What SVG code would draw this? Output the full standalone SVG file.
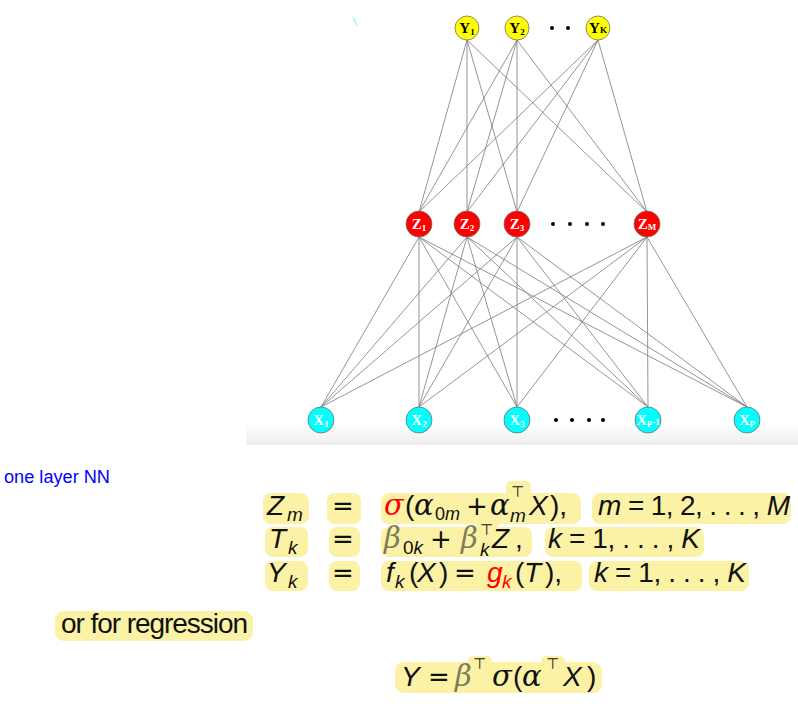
<svg xmlns="http://www.w3.org/2000/svg" width="798" height="708" viewBox="0 0 798 708">
  <defs>
    <linearGradient id="floor" x1="0" y1="0" x2="0" y2="1">
      <stop offset="0" stop-color="#ffffff"/>
      <stop offset="1" stop-color="#eeeeee"/>
    </linearGradient>
    <style>
      .edge { stroke: #7a7a7a; stroke-width: 0.8; fill: none; }
      .ynode { fill: #ffff00; stroke: #707070; stroke-width: 0.8; }
      .znode { fill: #ff0000; stroke: #707070; stroke-width: 0.8; }
      .xnode { fill: #00ffff; stroke: #707070; stroke-width: 0.8; }
      .nl { font-family: "Liberation Serif", "Times New Roman", serif; font-weight: bold; font-size: 15px; text-anchor: middle; }
      .nl .s { font-size: 9px; }
      .ydark { fill: #000000; }
      .wlight { fill: #ffffff; }
      .dot { fill: #000000; }
      .hl { fill: #fbf2a6; }
      .m { font-family: "Liberation Sans", Arial, sans-serif; font-size: 28px; fill: #111111; }
      .it { font-style: italic; }
      .gr { font-family: "DejaVu Serif", "Liberation Serif", serif; font-style: italic; font-size: 29px; }
      .op { font-family: "DejaVu Sans", sans-serif; font-size: 26px; }
      .sb { font-size: 19px; }
      .sb2 { font-size: 18px; }
      .tp { font-family: "DejaVu Sans", sans-serif; font-size: 15px; fill: #111111; }
      .red { fill: #ff0000; }
      .olive { fill: #7c7c58; }
      .note { font-family: "Liberation Sans", Arial, sans-serif; font-size: 17.5px; fill: #0000ff; }
    </style>
  </defs>

  <rect width="798" height="708" fill="#ffffff"/>
  <!-- soft floor under the input layer -->
  <rect x="246" y="422" width="552" height="23" fill="url(#floor)"/>
  <line x1="353" y1="17" x2="357" y2="26" stroke="#a8f4f4" stroke-width="1.5"/>

  <!-- connections -->
  <g id="connectors">
    <!-- output layer to hidden layer -->
    <line class="edge" x1="467" y1="40" x2="419" y2="212"/>
    <line class="edge" x1="467" y1="40" x2="467" y2="212"/>
    <line class="edge" x1="467" y1="40" x2="517" y2="212"/>
    <line class="edge" x1="467" y1="40" x2="647" y2="212"/>
    <line class="edge" x1="517" y1="40" x2="419" y2="212"/>
    <line class="edge" x1="517" y1="40" x2="467" y2="212"/>
    <line class="edge" x1="517" y1="40" x2="517" y2="212"/>
    <line class="edge" x1="517" y1="40" x2="647" y2="212"/>
    <line class="edge" x1="598" y1="40" x2="419" y2="212"/>
    <line class="edge" x1="598" y1="40" x2="467" y2="212"/>
    <line class="edge" x1="598" y1="40" x2="517" y2="212"/>
    <line class="edge" x1="598" y1="40" x2="647" y2="212"/>
    <!-- hidden layer to input layer -->
    <line class="edge" x1="419" y1="237" x2="321" y2="407"/>
    <line class="edge" x1="419" y1="237" x2="419" y2="407"/>
    <line class="edge" x1="419" y1="237" x2="517" y2="407"/>
    <line class="edge" x1="419" y1="237" x2="648" y2="407"/>
    <line class="edge" x1="419" y1="237" x2="747" y2="407"/>
    <line class="edge" x1="467" y1="237" x2="321" y2="407"/>
    <line class="edge" x1="467" y1="237" x2="419" y2="407"/>
    <line class="edge" x1="467" y1="237" x2="517" y2="407"/>
    <line class="edge" x1="467" y1="237" x2="648" y2="407"/>
    <line class="edge" x1="467" y1="237" x2="747" y2="407"/>
    <line class="edge" x1="517" y1="237" x2="321" y2="407"/>
    <line class="edge" x1="517" y1="237" x2="419" y2="407"/>
    <line class="edge" x1="517" y1="237" x2="517" y2="407"/>
    <line class="edge" x1="517" y1="237" x2="648" y2="407"/>
    <line class="edge" x1="517" y1="237" x2="747" y2="407"/>
    <line class="edge" x1="647" y1="237" x2="321" y2="407"/>
    <line class="edge" x1="647" y1="237" x2="419" y2="407"/>
    <line class="edge" x1="647" y1="237" x2="517" y2="407"/>
    <line class="edge" x1="647" y1="237" x2="648" y2="407"/>
    <line class="edge" x1="647" y1="237" x2="747" y2="407"/>
  </g>

  <!-- output layer -->
  <g id="y1"><circle class="ynode" cx="467" cy="28" r="12"/><text class="nl ydark" x="467" y="33">Y<tspan class="s" dy="2">1</tspan></text></g>
  <g id="y2"><circle class="ynode" cx="517" cy="28" r="12"/><text class="nl ydark" x="517" y="33">Y<tspan class="s" dy="2">2</tspan></text></g>
  <g id="yk"><circle class="ynode" cx="598" cy="28" r="12"/><text class="nl ydark" x="598" y="33">Y<tspan class="s" dy="0">K</tspan></text></g>
  <g id="y-ellipsis"><circle class="dot" cx="552" cy="28" r="2"/><circle class="dot" cx="568" cy="28" r="2"/></g>

  <!-- hidden layer -->
  <g id="z1"><circle class="znode" cx="419" cy="224" r="13"/><text class="nl wlight" x="419" y="229">Z<tspan class="s" dy="2">1</tspan></text></g>
  <g id="z2"><circle class="znode" cx="467" cy="224" r="13"/><text class="nl wlight" x="467" y="229">Z<tspan class="s" dy="2">2</tspan></text></g>
  <g id="z3"><circle class="znode" cx="517" cy="224" r="13"/><text class="nl wlight" x="517" y="229">Z<tspan class="s" dy="2">3</tspan></text></g>
  <g id="zm"><circle class="znode" cx="647" cy="224" r="13"/><text class="nl wlight" x="647" y="229">Z<tspan class="s" dy="1">M</tspan></text></g>
  <g id="z-ellipsis"><circle class="dot" cx="553" cy="224" r="2"/><circle class="dot" cx="570" cy="224" r="2"/><circle class="dot" cx="587" cy="224" r="2"/><circle class="dot" cx="603" cy="224" r="2"/></g>

  <!-- input layer -->
  <g id="x1"><circle class="xnode" cx="321" cy="420" r="13"/><text class="nl wlight" x="321" y="425">X<tspan class="s" dy="2">1</tspan></text></g>
  <g id="x2"><circle class="xnode" cx="419" cy="420" r="13"/><text class="nl wlight" x="419" y="425">X<tspan class="s" dy="2">2</tspan></text></g>
  <g id="x3"><circle class="xnode" cx="517" cy="420" r="13"/><text class="nl wlight" x="517" y="425">X<tspan class="s" dy="2">3</tspan></text></g>
  <g id="xp1"><circle class="xnode" cx="648" cy="420" r="13"/><text class="nl wlight" x="648" y="425">X<tspan class="s" dy="0">p-1</tspan></text></g>
  <g id="xp"><circle class="xnode" cx="747" cy="420" r="13"/><text class="nl wlight" x="747" y="425">X<tspan class="s" dy="0">p</tspan></text></g>
  <g id="x-ellipsis"><circle class="dot" cx="556" cy="420" r="2"/><circle class="dot" cx="572" cy="420" r="2"/><circle class="dot" cx="589" cy="420" r="2"/><circle class="dot" cx="603" cy="420" r="2"/></g>

  <text class="note" x="4" y="483" textLength="106" lengthAdjust="spacingAndGlyphs">one layer NN</text>

  <!-- highlighted model equations -->
  <g id="eq-highlights">
    <rect class="hl" x="263" y="493" width="46" height="31" rx="8"/>
    <rect class="hl" x="327" y="493" width="34" height="31" rx="8"/>
    <rect class="hl" x="381" y="493" width="200" height="31" rx="8"/>
    <rect class="hl" x="506" y="481" width="25" height="20" rx="5"/>
    <rect class="hl" x="592" y="493" width="199" height="31" rx="8"/>

    <rect class="hl" x="265" y="527" width="43" height="30" rx="8"/>
    <rect class="hl" x="329" y="527" width="31" height="30" rx="8"/>
    <rect class="hl" x="381" y="527" width="151" height="30" rx="8"/>
    <rect class="hl" x="476" y="519" width="22" height="16" rx="5"/>
    <rect class="hl" x="545" y="527" width="159" height="30" rx="8"/>

    <rect class="hl" x="265" y="561" width="43" height="30" rx="8"/>
    <rect class="hl" x="329" y="561" width="31" height="30" rx="8"/>
    <rect class="hl" x="381" y="561" width="201" height="30" rx="8"/>
    <rect class="hl" x="589" y="561" width="160" height="30" rx="8"/>

    <rect class="hl" x="55" y="611" width="198" height="30" rx="9"/>

    <rect class="hl" x="395" y="662" width="207" height="31" rx="9"/>
    <rect class="hl" x="468" y="656" width="24" height="14" rx="5"/>
    <rect class="hl" x="541" y="656" width="24" height="14" rx="5"/>
  </g>

  <g id="eq-row1" class="m">
    <text class="it" x="267" y="515">Z</text>
    <text class="it sb" x="287" y="521">m</text>
    <text class="op" x="332" y="515">=</text>
    <text class="gr red" x="384" y="515">σ</text>
    <text x="405" y="515">(</text>
    <text class="gr" x="414" y="515">α</text>
    <text class="sb2" x="435" y="520">0<tspan class="it">m</tspan></text>
    <text class="op" x="466" y="515">+</text>
    <text class="gr" x="490" y="515">α</text>
    <text class="tp" x="511" y="497">⊤</text>
    <text class="it sb" x="510" y="522">m</text>
    <text class="it" x="529" y="515">X</text>
    <text x="550" y="515">),</text>
    <text x="598" y="515" textLength="192" lengthAdjust="spacing"><tspan class="it">m</tspan> = 1, 2, . . . , <tspan class="it">M</tspan></text>
  </g>

  <g id="eq-row2" class="m">
    <text class="it" x="269" y="548">T</text>
    <text class="it sb" x="288" y="554">k</text>
    <text class="op" x="332" y="548">=</text>
    <text class="gr olive" x="384" y="548" font-size="28">β</text>
    <text class="sb" x="403" y="554">0<tspan class="it">k</tspan></text>
    <text class="op" x="430" y="548">+</text>
    <text class="gr olive" x="461" y="548" font-size="28">β</text>
    <text class="tp" x="480" y="535">⊤</text>
    <text class="it sb" x="480" y="556">k</text>
    <text class="it" x="492" y="548">Z</text>
    <text x="515" y="548">,</text>
    <text x="548" y="548" textLength="152" lengthAdjust="spacing"><tspan class="it">k</tspan> = 1, . . . , <tspan class="it">K</tspan></text>
  </g>

  <g id="eq-row3" class="m">
    <text class="it" x="267" y="582">Y</text>
    <text class="it sb" x="288" y="588">k</text>
    <text class="op" x="332" y="582">=</text>
    <text class="it" x="386" y="582">f</text>
    <text class="it sb" x="395" y="588">k</text>
    <text x="409" y="582">(</text>
    <text class="it" x="417" y="582">X</text>
    <text x="439" y="582">)</text>
    <text class="op" x="454" y="582">=</text>
    <text class="it red" x="487" y="582">g</text>
    <text class="it sb red" x="502" y="588">k</text>
    <text x="515" y="582">(</text>
    <text class="it" x="524" y="582">T</text>
    <text x="545" y="582">),</text>
    <text x="594" y="582" textLength="152" lengthAdjust="spacing"><tspan class="it">k</tspan> = 1, . . . , <tspan class="it">K</tspan></text>
  </g>

  <text class="m" x="61" y="633" textLength="187" lengthAdjust="spacing" font-size="25">or for regression</text>

  <g id="eq-regression" class="m">
    <text class="it" x="401" y="686">Y</text>
    <text class="op" x="428" y="686">=</text>
    <text class="gr olive" x="455" y="686">β</text>
    <text class="tp" x="473" y="669">⊤</text>
    <text class="gr" x="492" y="686">σ</text>
    <text x="513" y="686">(</text>
    <text class="gr" x="522" y="686">α</text>
    <text class="tp" x="546" y="669">⊤</text>
    <text class="it" x="563" y="686">X</text>
    <text x="587" y="686">)</text>
  </g>
</svg>
